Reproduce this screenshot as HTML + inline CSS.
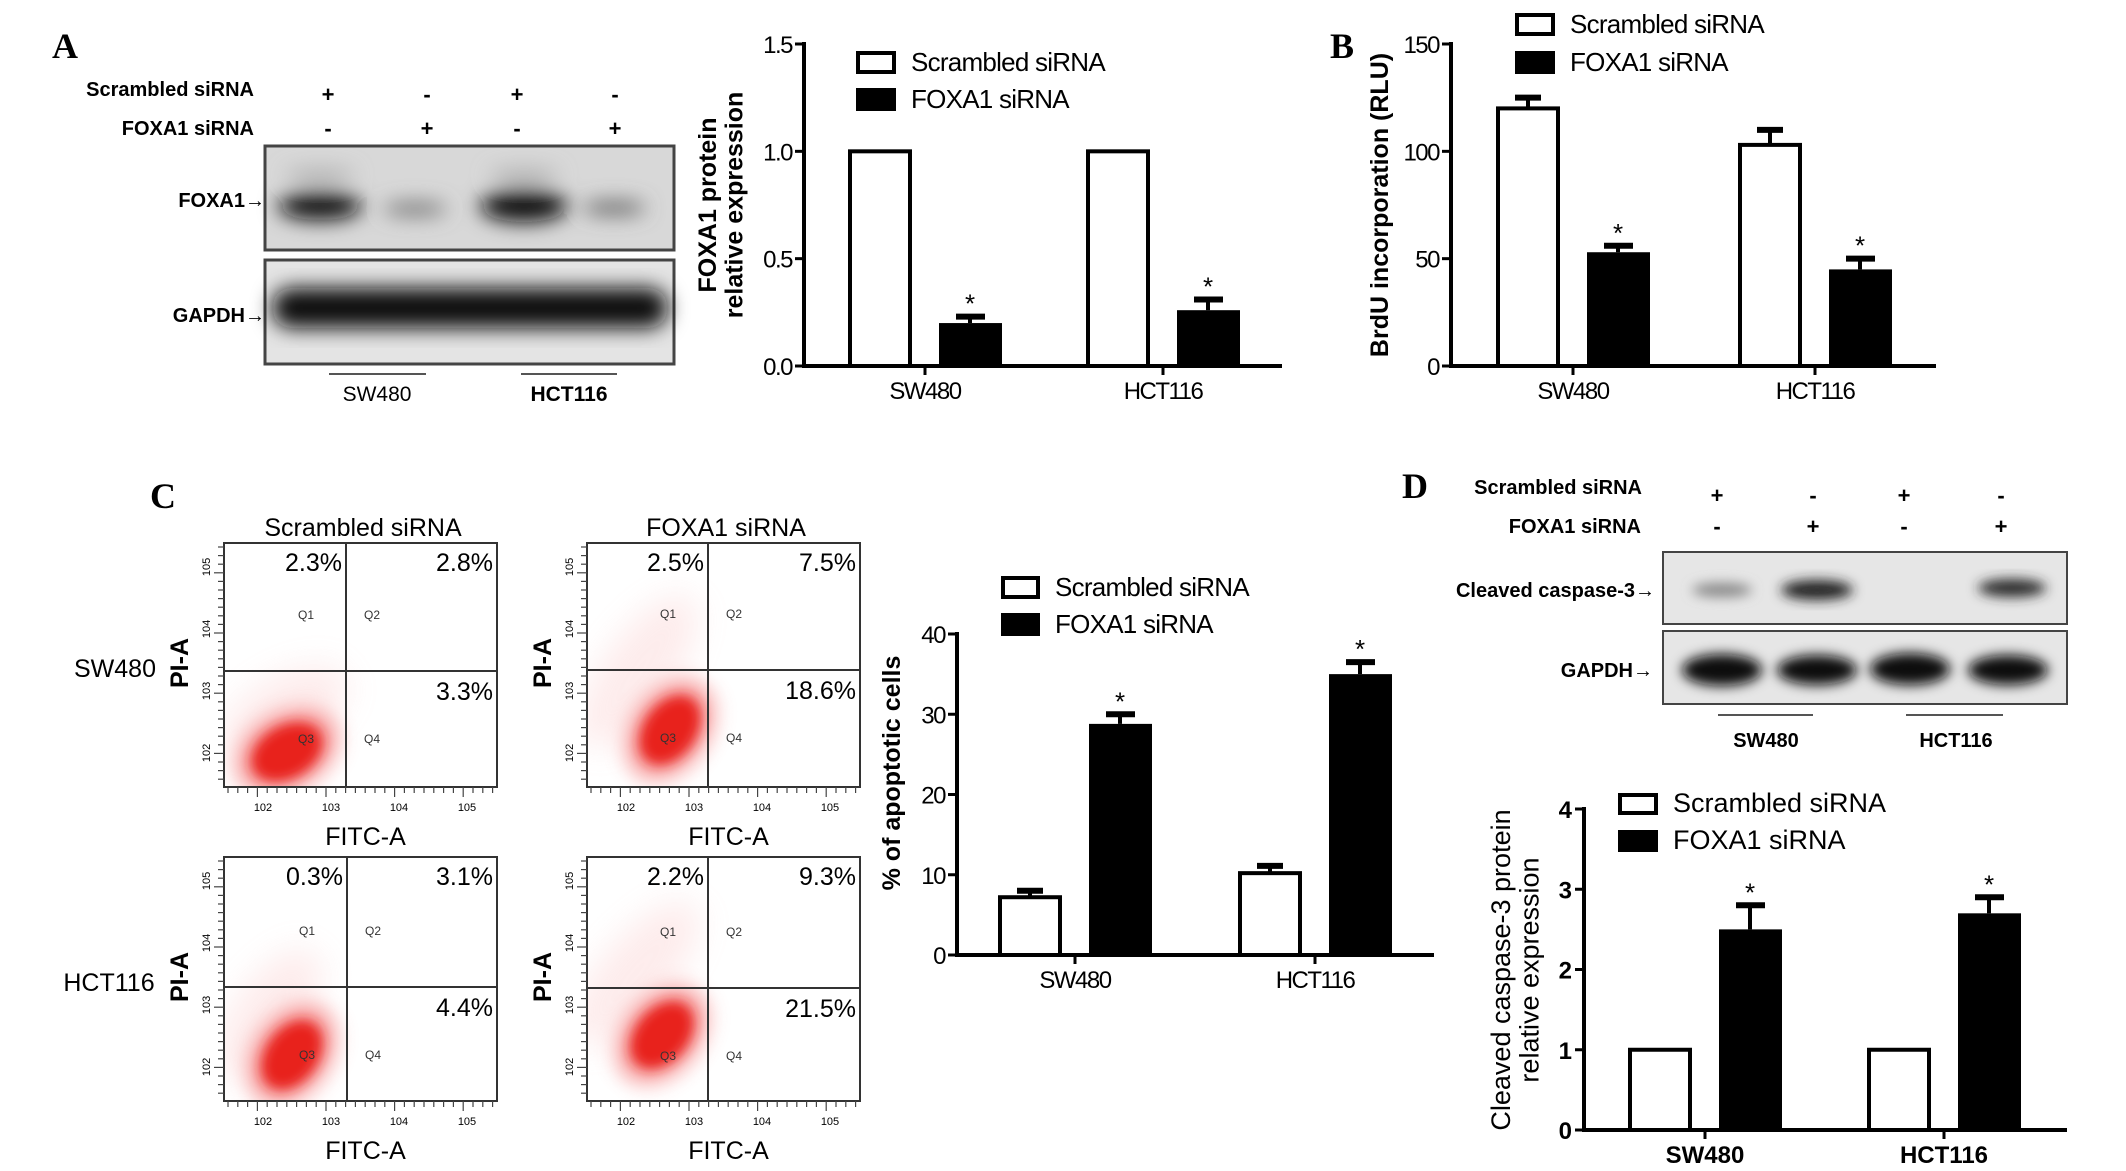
<!DOCTYPE html>
<html><head><meta charset="utf-8">
<style>
html,body{margin:0;padding:0;background:#fff;}
svg{display:block;font-family:"Liberation Sans",Arial,sans-serif;}
</style></head>
<body>
<svg id="fig" width="2126" height="1171" viewBox="0 0 2126 1171" xmlns="http://www.w3.org/2000/svg">
<defs>
<filter id="blur6" x="-50%" y="-50%" width="200%" height="200%"><feGaussianBlur stdDeviation="6"/></filter>
<filter id="blur10" x="-50%" y="-50%" width="200%" height="200%"><feGaussianBlur stdDeviation="10"/></filter>
<filter id="blur16" x="-50%" y="-50%" width="200%" height="200%"><feGaussianBlur stdDeviation="16"/></filter>
</defs>

<text x="52" y="58" font-family="Liberation Serif,serif" font-weight="bold" font-size="36">A</text>
<text x="1330" y="58" font-family="Liberation Serif,serif" font-weight="bold" font-size="36">B</text>
<text x="150" y="508" font-family="Liberation Serif,serif" font-weight="bold" font-size="36">C</text>
<text x="1402" y="498" font-family="Liberation Serif,serif" font-weight="bold" font-size="36">D</text>

<g font-weight="bold" font-size="20">
  <text x="254" y="96" text-anchor="end">Scrambled siRNA</text>
  <text x="254" y="135" text-anchor="end">FOXA1 siRNA</text>
  <g font-size="22" text-anchor="middle">
    <text x="328" y="102">+</text><text x="427" y="102">-</text><text x="517" y="102">+</text><text x="615" y="102">-</text>
    <text x="328" y="136">-</text><text x="427" y="136">+</text><text x="517" y="136">-</text><text x="615" y="136">+</text>
  </g>
  <rect x="265" y="146" width="409" height="104" fill="#d8d8d8" stroke="#444" stroke-width="3"/>
  <g filter="url(#blur10)">
    <ellipse cx="320" cy="206" rx="42" ry="14" fill="#111"/>
    <ellipse cx="415" cy="209" rx="32" ry="7" fill="#777"/>
    <ellipse cx="524" cy="206" rx="44" ry="16" fill="#111"/>
    <ellipse cx="614" cy="208" rx="32" ry="7" fill="#666"/>
    <ellipse cx="320" cy="175" rx="35" ry="6" fill="#aaa"/>
    <ellipse cx="524" cy="175" rx="35" ry="6" fill="#aaa"/>
  </g>
  <rect x="265" y="260" width="409" height="104" fill="#e4e4e4" stroke="#444" stroke-width="3"/>
  <g filter="url(#blur10)">
    <rect x="272" y="288" width="396" height="40" rx="20" fill="#0c0c0c"/>
  </g>
  <text x="265" y="207" text-anchor="end">FOXA1→</text>
  <text x="265" y="322" text-anchor="end">GAPDH→</text>
  <line x1="329" y1="374" x2="426" y2="374" stroke="#555" stroke-width="2"/>
  <line x1="521" y1="374" x2="617" y2="374" stroke="#555" stroke-width="2"/>
  <text x="377" y="401" text-anchor="middle" font-weight="normal" font-size="21">SW480</text>
  <text x="569" y="401" text-anchor="middle" font-size="21">HCT116</text>
</g>

<g font-weight="bold" font-size="20">
  <text x="1642" y="494" text-anchor="end">Scrambled siRNA</text>
  <text x="1641" y="533" text-anchor="end">FOXA1 siRNA</text>
  <g font-size="22" text-anchor="middle">
    <text x="1717" y="503">+</text><text x="1813" y="503">-</text><text x="1904" y="503">+</text><text x="2001" y="503">-</text>
    <text x="1717" y="534">-</text><text x="1813" y="534">+</text><text x="1904" y="534">-</text><text x="2001" y="534">+</text>
  </g>
  <rect x="1663" y="552" width="404" height="72" fill="#e6e6e6" stroke="#444" stroke-width="2"/>
  <g filter="url(#blur6)">
    <ellipse cx="1722" cy="590" rx="30" ry="7" fill="#888"/>
    <ellipse cx="1817" cy="590" rx="36" ry="10" fill="#222"/>
    <ellipse cx="2012" cy="588" rx="34" ry="9" fill="#2a2a2a"/>
  </g>
  <rect x="1663" y="631" width="404" height="73" fill="#e6e6e6" stroke="#444" stroke-width="2"/>
  <g filter="url(#blur6)">
    <ellipse cx="1722" cy="670" rx="40" ry="16" fill="#080808"/>
    <ellipse cx="1817" cy="670" rx="40" ry="15" fill="#080808"/>
    <ellipse cx="1910" cy="669" rx="40" ry="16" fill="#080808"/>
    <ellipse cx="2008" cy="670" rx="40" ry="15" fill="#080808"/>
  </g>
  <text x="1655" y="597" text-anchor="end">Cleaved caspase-3→</text>
  <text x="1653" y="677" text-anchor="end">GAPDH→</text>
  <line x1="1718" y1="715" x2="1813" y2="715" stroke="#555" stroke-width="2"/>
  <line x1="1906" y1="715" x2="2003" y2="715" stroke="#555" stroke-width="2"/>
  <text x="1766" y="747" text-anchor="middle">SW480</text>
  <text x="1956" y="747" text-anchor="middle">HCT116</text>
</g>

<g id="flow"></g>
<g id="charts"></g>
</svg>

<script>
const NS = "http://www.w3.org/2000/svg";
const categories = ["SW480", "HCT116"];
const aScr = [1.0, 1.0];
const aScrErr = [0, 0];
const aFox = [0.2, 0.26];
const aFoxErr = [0.03, 0.05];
const aTicks = [0, 0.5, 1.0, 1.5];
const aTickLabels = ["0.0", "0.5", "1.0", "1.5"];
const bScr = [120, 103];
const bScrErr = [5, 7];
const bFox = [53, 45];
const bFoxErr = [3, 5];
const bTicks = [0, 50, 100, 150];
const bTickLabels = ["0", "50", "100", "150"];
const cScr = [7.2, 10.2];
const cScrErr = [0.8, 0.9];
const cFox = [28.8, 35.0];
const cFoxErr = [1.2, 1.5];
const cTicks = [0, 10, 20, 30, 40];
const cTickLabels = ["0", "10", "20", "30", "40"];
const dScr = [1, 1];
const dScrErr = [0, 0];
const dFox = [2.5, 2.7];
const dFoxErr = [0.3, 0.2];
const dTicks = [0, 1, 2, 3, 4];
const dTickLabels = ["0", "1", "2", "3", "4"];
const sigFox = [true, true];
const flowTitles = ["Scrambled siRNA", "FOXA1 siRNA"];
const flowRows = ["SW480", "HCT116"];
const flowQ1 = [2.3, 2.5, 0.3, 2.2];
const flowQ2 = [2.8, 7.5, 3.1, 9.3];
const flowQ4 = [3.3, 18.6, 4.4, 21.5];

function mk(tag, attrs, parent, text) {
  const e = document.createElementNS(NS, tag);
  for (const k in attrs) e.setAttribute(k, attrs[k]);
  if (text !== undefined) e.textContent = text;
  parent.appendChild(e);
  return e;
}

const charts = document.getElementById("charts");

function drawChart(cfg, scr, scrErr, fox, foxErr, ticks, tickLabels, prefix) {
  const g = mk("g", {}, charts);
  
  
  const y = v => cfg.y0 - (v - ticks[0]) / (ticks[ticks.length - 1] - ticks[0]) * (cfg.y0 - cfg.yTop);
  const fs = cfg.fs;
  const ls = cfg.bold ? 0 : -1.5;
  for (let i = 0; i < categories.length; i++) {
    const c = cfg.centers[i];
    const w = mk("rect", {x: c - 75, y: y(scr[i]), width: 60, height: cfg.y0 - y(scr[i]), fill: "#fff", stroke: "#000", "stroke-width": 4}, g);
    
    
    if (scrErr[i] > 0) {
      const t = y(scr[i] + scrErr[i]);
      mk("line", {x1: c - 45, y1: y(scr[i]), x2: c - 45, y2: t, stroke: "#000", "stroke-width": 4}, g);
      mk("line", {x1: c - 58, y1: t, x2: c - 32, y2: t, stroke: "#000", "stroke-width": 6}, g);
    }
    const b = mk("rect", {x: c + 14, y: y(fox[i]), width: 63, height: cfg.y0 - y(fox[i]), fill: "#000"}, g);
    
    
    const t2 = y(fox[i] + foxErr[i]);
    mk("line", {x1: c + 45, y1: y(fox[i]), x2: c + 45, y2: t2, stroke: "#000", "stroke-width": 4}, g);
    mk("line", {x1: c + 31, y1: t2, x2: c + 60, y2: t2, stroke: "#000", "stroke-width": 6}, g);
    if (sigFox[i]) {
      const s = mk("text", {x: c + 45, y: t2 - 4, "text-anchor": "middle", "font-size": 26}, g, "*");
      
      
    }
    mk("line", {x1: c, y1: cfg.y0, x2: c, y2: cfg.y0 + 9, stroke: "#000", "stroke-width": 3}, g);
    const cl = mk("text", {x: c, y: cfg.y0 + 33, "text-anchor": "middle", "font-size": fs, "letter-spacing": ls, "font-weight": cfg.bold ? "bold" : "normal"}, g, categories[i]);
    
    
  }
  mk("line", {x1: cfg.x0, y1: cfg.yTop - 2, x2: cfg.x0, y2: cfg.y0 + 2, stroke: "#000", "stroke-width": 4}, g);
  mk("line", {x1: cfg.x0 - 2, y1: cfg.y0, x2: cfg.xEnd, y2: cfg.y0, stroke: "#000", "stroke-width": 4}, g);
  for (let k = 0; k < ticks.length; k++) {
    mk("line", {x1: cfg.x0 - 9, y1: y(ticks[k]), x2: cfg.x0, y2: y(ticks[k]), stroke: "#000", "stroke-width": 3}, g);
    const tl = mk("text", {x: cfg.x0 - 12, y: y(ticks[k]) + 9, "text-anchor": "end", "font-size": fs, "letter-spacing": ls, "font-weight": cfg.bold ? "bold" : "normal"}, g, tickLabels[k]);
    
    
  }
  const lg = mk("g", {}, g);
  
  
  mk("rect", {x: cfg.lx, y: cfg.ly, width: cfg.lw, height: cfg.lh, fill: "#fff", stroke: "#000", "stroke-width": 4}, lg);
  mk("text", {x: cfg.lx + cfg.lw + 17, y: cfg.ly + cfg.lh - 1, "font-size": cfg.lfs, "letter-spacing": ls / 2}, lg, "Scrambled siRNA");
  mk("rect", {x: cfg.lx - 2, y: cfg.ly + cfg.lgap - 2, width: cfg.lw + 4, height: cfg.lh + 4, fill: "#000"}, lg);
  mk("text", {x: cfg.lx + cfg.lw + 17, y: cfg.ly + cfg.lgap + cfg.lh - 1, "font-size": cfg.lfs, "letter-spacing": ls / 2}, lg, "FOXA1 siRNA");
  const yt = mk("text", {transform: `translate(${cfg.tx},${cfg.ty}) rotate(-90)`, "text-anchor": "middle", "font-size": cfg.tfs, "font-weight": cfg.tbold ? "bold" : "normal"}, g);
  
  
  cfg.title.forEach((line, i) => {
    mk("tspan", {x: 0, dy: i === 0 ? 0 : cfg.tfs * 1.05}, yt, line);
  });
}

drawChart({x0: 804, xEnd: 1282, y0: 366, yTop: 44, centers: [925, 1163], fs: 24, bold: false,
  lx: 858, ly: 53, lw: 36, lh: 19, lgap: 37, lfs: 26, tx: 716, ty: 205, tfs: 25, tbold: true,
  title: ["FOXA1 protein", "relative expression"]}, aScr, aScrErr, aFox, aFoxErr, aTicks, aTickLabels, "foxa1-expression");
drawChart({x0: 1451, xEnd: 1936, y0: 366, yTop: 44, centers: [1573, 1815], fs: 24, bold: false,
  lx: 1517, ly: 15, lw: 36, lh: 19, lgap: 38, lfs: 26, tx: 1388, ty: 205, tfs: 25, tbold: true,
  title: ["BrdU incorporation (RLU)"]}, bScr, bScrErr, bFox, bFoxErr, bTicks, bTickLabels, "brdu");
drawChart({x0: 957, xEnd: 1434, y0: 955, yTop: 634, centers: [1075, 1315], fs: 24, bold: false,
  lx: 1003, ly: 578, lw: 35, lh: 19, lgap: 37, lfs: 26, tx: 900, ty: 773, tfs: 25, tbold: true,
  title: ["% of apoptotic cells"]}, cScr, cScrErr, cFox, cFoxErr, cTicks, cTickLabels, "apoptosis");
drawChart({x0: 1584, xEnd: 2067, y0: 1130, yTop: 809, centers: [1705, 1944], fs: 24, bold: true,
  lx: 1620, ly: 795, lw: 36, lh: 18, lgap: 37, lfs: 27, tx: 1510, ty: 970, tfs: 27, tbold: false,
  title: ["Cleaved caspase-3 protein", "relative expression"]}, dScr, dScrErr, dFox, dFoxErr, dTicks, dTickLabels, "caspase3");

const flow = document.getElementById("flow");
const boxes = [
  {x: 224, y: 543, vx: 346, hy: 671, cx: 287, cy: 752, rot: -30, spread: 0.6},
  {x: 587, y: 543, vx: 708, hy: 670, cx: 670, cy: 730, rot: -55, spread: 1.0},
  {x: 224, y: 857, vx: 347, hy: 987, cx: 292, cy: 1055, rot: -55, spread: 0.7},
  {x: 587, y: 857, vx: 708, hy: 988, cx: 662, cy: 1035, rot: -50, spread: 1.0}
];
const W = 273, H = 244;
boxes.forEach((b, i) => {
  const g = mk("g", {}, flow);
  
  
  mk("rect", {x: b.x, y: b.y, width: W, height: H, fill: "#fff"}, g);
  const cg = mk("g", {}, g);
  const clip = "clip" + i;
  const cp = mk("clipPath", {id: clip}, g);
  mk("rect", {x: b.x, y: b.y, width: W, height: H}, cp);
  cg.setAttribute("clip-path", `url(#${clip})`);
  mk("ellipse", {cx: b.cx + 30 * b.spread, cy: b.cy - 60 * b.spread, rx: 40 + 50 * b.spread, ry: 35, fill: "#f6a0a0", opacity: 0.2, filter: "url(#blur16)", transform: `rotate(${b.rot} ${b.cx} ${b.cy})`}, cg);
  mk("ellipse", {cx: b.cx, cy: b.cy, rx: 55, ry: 38, fill: "#f05050", opacity: 0.55, filter: "url(#blur10)", transform: `rotate(${b.rot} ${b.cx} ${b.cy})`}, cg);
  mk("ellipse", {cx: b.cx, cy: b.cy, rx: 38, ry: 26, fill: "#e8201e", filter: "url(#blur6)", transform: `rotate(${b.rot} ${b.cx} ${b.cy})`}, cg);
  mk("rect", {x: b.x, y: b.y, width: W, height: H, fill: "none", stroke: "#333", "stroke-width": 2}, g);
  mk("line", {x1: b.vx, y1: b.y, x2: b.vx, y2: b.y + H, stroke: "#333", "stroke-width": 2}, g);
  mk("line", {x1: b.x, y1: b.hy, x2: b.x + W, y2: b.hy, stroke: "#333", "stroke-width": 2}, g);
  [["Q1", b.vx - 48, b.hy - 52], ["Q2", b.vx + 18, b.hy - 52], ["Q3", b.vx - 48, b.hy + 72], ["Q4", b.vx + 18, b.hy + 72]].forEach(q => mk("text", {x: q[1], y: q[2], "font-size": 12, fill: "#333"}, g, q[0]));
  const p1 = mk("text", {x: b.vx - 4, y: b.y + 28, "text-anchor": "end", "font-size": 25}, g, flowQ1[i].toFixed(1) + "%");
  
  
  const p2 = mk("text", {x: b.x + W - 4, y: b.y + 28, "text-anchor": "end", "font-size": 25}, g, flowQ2[i].toFixed(1) + "%");
  
  
  const p4 = mk("text", {x: b.x + W - 4, y: b.hy + 29, "text-anchor": "end", "font-size": 25}, g, flowQ4[i].toFixed(1) + "%");
  
  
  for (let d = 0; d < 4; d++) {
    const tx = b.x + 39 + d * 68;
    mk("text", {x: tx, y: b.y + H + 24, "text-anchor": "middle", "font-size": 11}, g, "10" + (d + 2));
    const ty = b.y + 24 + d * 62;
    mk("text", {transform: `translate(${b.x - 14},${ty}) rotate(-90)`, "text-anchor": "middle", "font-size": 11}, g, "10" + (5 - d));
  }
  for (let t = 0; t < 28; t++) {
    mk("line", {x1: b.x + 4 + t * 9.8, y1: b.y + H, x2: b.x + 4 + t * 9.8, y2: b.y + H + (t % 7 === 3 ? 10 : 6), stroke: "#444", "stroke-width": 1.2}, g);
    mk("line", {x1: b.x, y1: b.y + 4 + t * 8.6, x2: b.x - (t % 7 === 3 ? 10 : 6), y2: b.y + 4 + t * 8.6, stroke: "#444", "stroke-width": 1.2}, g);
  }
  const fx = mk("text", {x: b.x + W / 2 + 5, y: b.y + H + 58, "text-anchor": "middle", "font-size": 25}, g, "FITC-A");
  
  
  const py = mk("text", {transform: `translate(${b.x - 36},${b.y + 120}) rotate(-90)`, "text-anchor": "middle", "font-size": 25, "font-weight": "bold"}, g, "PI-A");
  
  
});
flowTitles.forEach((t, i) => {
  const e = mk("text", {x: i === 0 ? 363 : 726, y: 536, "text-anchor": "middle", "font-size": 25}, flow, t);
  
  
});
flowRows.forEach((t, i) => {
  const e = mk("text", {x: i === 0 ? 115 : 109, y: i === 0 ? 677 : 991, "text-anchor": "middle", "font-size": 25}, flow, t);
  
  
});
</script>
</body></html>
